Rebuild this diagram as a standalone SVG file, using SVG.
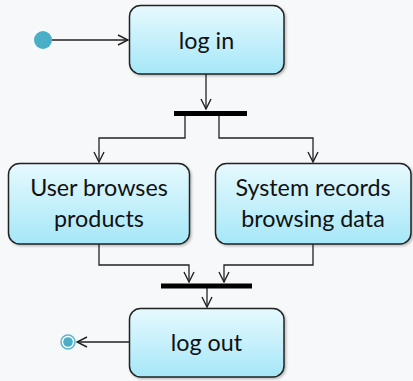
<svg xmlns="http://www.w3.org/2000/svg" width="413" height="381" viewBox="0 0 413 381">
<defs>
<linearGradient id="g" x1="0" y1="0" x2="0" y2="1">
<stop offset="0" stop-color="#e6f9fe"/>
<stop offset="1" stop-color="#a6e7f8"/>
</linearGradient>
<marker id="a" viewBox="0 0 12 12" refX="11" refY="6" markerWidth="12" markerHeight="12" markerUnits="userSpaceOnUse" orient="auto">
<path d="M1,1 L11,6 L1,11" fill="none" stroke="#222" stroke-width="1.4"/>
</marker>
<filter id="s" x="-10%" y="-10%" width="130%" height="130%">
<feDropShadow dx="1.5" dy="1.5" stdDeviation="1.2" flood-color="#000" flood-opacity="0.25"/>
</filter>
</defs>
<style>
.box{fill:url(#g);stroke:#222;stroke-width:1.5;filter:url(#s)}
.t{font-family:Lato,"Open Sans",sans-serif;font-size:23.3px;fill:#111;text-anchor:middle}
.c{fill:none;stroke:#222;stroke-width:1.3;marker-end:url(#a)}
.bar{fill:#000}
</style>
<rect width="413" height="381" fill="#f7f8fa"/>
<g id="connectors">
<path class="c" d="M52,40 H128"/>
<path class="c" d="M206,74 V109"/>
<path class="c" d="M185,116 V138 H99 V162"/>
<path class="c" d="M219,116 V138 H313 V162"/>
<path class="c" d="M99,244 V265 H189 V282"/>
<path class="c" d="M313,244 V265 H224 V282"/>
<path class="c" d="M207,288 V307"/>
<path class="c" d="M129,342 H77"/>
</g>
<g id="start"><circle cx="43" cy="40" r="9" fill="#4aaec6"/></g>
<g id="login"><rect class="box" x="129.5" y="5.5" width="154.5" height="68.5" rx="11"/><text class="t" x="206.5" y="49">log in</text></g>
<g id="fork"><rect class="bar" x="174" y="111" width="73" height="5"/></g>
<g id="browse"><rect class="box" x="8.5" y="163.5" width="181" height="80.5" rx="11"/><text class="t" x="99" y="196">User browses</text><text class="t" x="99" y="227">products</text></g>
<g id="records"><rect class="box" x="215.5" y="163.5" width="195.5" height="80.5" rx="11"/><text class="t" x="313" y="196">System records</text><text class="t" x="313" y="227">browsing data</text></g>
<g id="join"><rect class="bar" x="161" y="283.5" width="91" height="5"/></g>
<g id="logout"><rect class="box" x="129.5" y="308.5" width="154.5" height="68.5" rx="11"/><text class="t" x="206.5" y="351">log out</text></g>
<g id="end"><circle cx="68" cy="342" r="7" fill="#fff" stroke="#5ab8d0" stroke-width="1.5"/><circle cx="68" cy="342" r="4.8" fill="#4aaec6"/></g>
</svg>
